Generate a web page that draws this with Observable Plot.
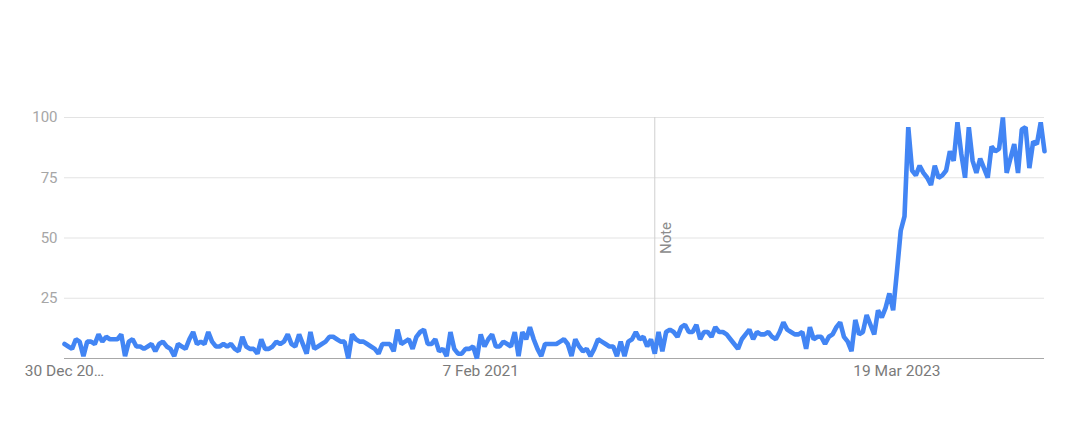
<!DOCTYPE html>
<html>
<head>
<meta charset="utf-8">
<script src="https://cdn.jsdelivr.net/npm/d3@7"></script>
<script src="https://cdn.jsdelivr.net/npm/@observablehq/plot@0.6"></script>
<style>
  html, body { margin: 0; padding: 0; background: #fff; }
  #chart { width: 1080px; height: 447px; }
</style>
</head>
<body>
<div id="chart"></div>
<script>
// Weekly interest values (Google Trends style), first week starting 30 Dec 2018
const startDate = "2018-12-30";
const values = [
  6,5,4,8,7,1,7,7,6,10,
  7,9,8,8,8,10,1,7,8,5,
  5,4,5,6,3,6,7,5,4,1,
  6,5,4,8,11,6,7,6,11,7,
  5,5,6,5,6,4,3,9,5,4,
  4,2,8,4,4,5,7,6,7,10,
  6,5,10,6,2,11,4,5,6,7,
  9,9,8,7,7,0,10,8,7,7,
  6,5,4,2,6,6,6,3,12,6,
  7,8,4,9,11,12,6,6,8,3,
  4,1,11,4,2,2,4,4,5,0,
  10,5,8,10,5,5,7,6,5,11,
  1,11,8,13,8,4,1,6,6,6,
  6,7,8,6,1,8,5,3,4,1,
  4,8,7,6,5,5,1,7,1,7,
  8,11,8,9,5,8,2,11,3,11,
  12,11,9,13,14,11,11,14,8,11,
  11,9,13,11,11,10,8,6,4,8,
  10,12,8,11,10,10,11,9,8,11,
  15,12,11,10,10,11,4,13,8,9,
  9,6,9,10,13,15,9,7,3,16,
  10,11,18,14,10,20,17,21,27,20,
  36,53,59,96,78,76,80,77,75,72,
  80,75,76,78,86,82,98,85,75,96,
  82,77,83,79,75,88,86,87,100,77,
  83,89,77,95,96,79,90,89,98,86
];
const xTickDates = ["2018-12-30", "2021-02-07", "2023-03-19"];
const xTickLabels = ["30 Dec 20\u2026", "7 Feb 2021", "19 Mar 2023"];
const yTicks = [25, 50, 75, 100];
const noteDates = ["2021-12-26"];
const noteLabels = ["Note"];

const start = new Date(startDate + "T00:00:00Z");
const data = values.map((v, i) => ({date: d3.utcDay.offset(start, 7 * i), value: v}));
const tickDates = xTickDates.map(s => new Date(s + "T00:00:00Z"));
const notes = noteDates.map((s, i) => ({date: new Date(s + "T00:00:00Z"), label: noteLabels[i]}));

const font = "Roboto, 'Noto Sans', sans-serif";

const chart = Plot.plot({
  width: 1080,
  height: 447,
  marginLeft: 64,
  marginRight: 36,
  marginTop: 117,
  marginBottom: 89,
  style: {fontFamily: font, background: "#fff"},
  x: {type: "utc", domain: [data[0].date, data[data.length - 1].date]},
  y: {domain: [0, 100]},
  marks: [
    Plot.gridY(yTicks, {stroke: "#e3e3e3", strokeOpacity: 1, strokeWidth: 1}),
    Plot.axisY(yTicks, {tickSize: 0, tickPadding: 7, fontSize: 15, color: "#a6a6a6", label: null}),
    Plot.ruleX(notes, {x: "date", y1: 0, y2: 100, stroke: "#cfcfcf", strokeWidth: 1}),
    Plot.text(notes, {x: "date", y: 50, text: "label", rotate: -90, dx: 11, fontSize: 15, fill: "#8c8c8c"}),
    Plot.ruleY([0], {stroke: "#a8a8a8", strokeWidth: 1}),
    Plot.lineY(data, {x: "date", y: "value", stroke: "#4285f4", strokeWidth: 4.6, strokeLinejoin: "miter"}),
    Plot.axisX(tickDates, {tickSize: 0, tickPadding: 6, fontSize: 15.5, color: "#7a7a7a", label: null,
      tickFormat: (d) => xTickLabels[tickDates.findIndex(t => +t === +d)]})
  ]
});
document.getElementById("chart").appendChild(chart);
</script>
</body>
</html>
